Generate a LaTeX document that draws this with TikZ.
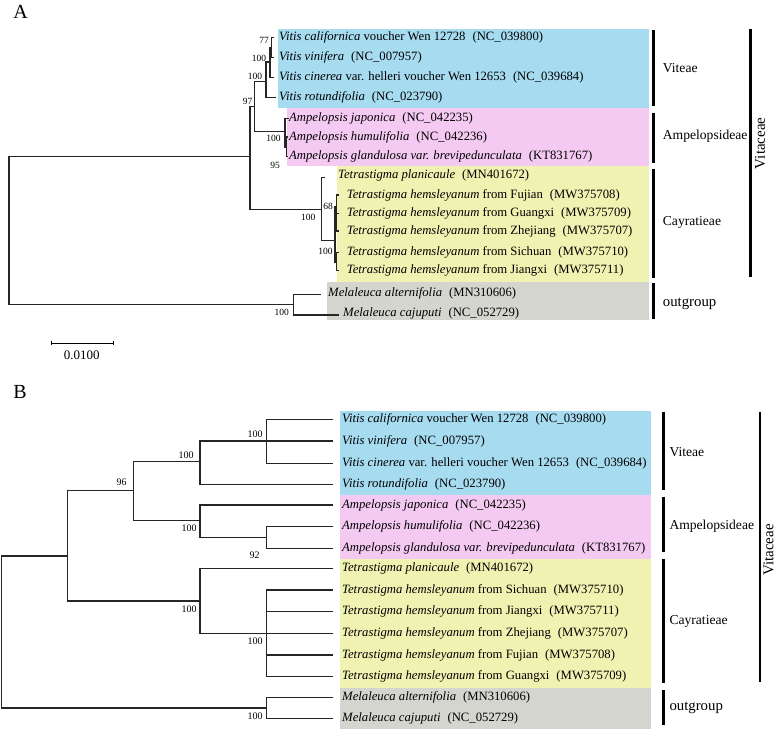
\documentclass[tikz,border=0pt]{standalone}
\usepackage{fontspec}
\setmainfont{Liberation Serif}
\usetikzlibrary{positioning, arrows.meta}

\definecolor{viteaebg}{RGB}{166,219,240}
\definecolor{ampelbg}{RGB}{244,202,242}
\definecolor{cayrabg}{RGB}{240,242,178}
\definecolor{outbg}{RGB}{213,213,207}

\newcommand{\accno}[1]{\hspace{0.55em}(#1)}

\begin{document}
\begin{tikzpicture}[x=1pt, y=-1pt]
    \tikzset{
      branch/.style={line width=1.1pt, black!85},
      bracket/.style={line width=2.5pt},
      taxon/.style={anchor=west, inner sep=0pt, font=\fontsize{12.7}{14}\selectfont},
      bootA/.style={inner sep=0pt, font=\fontsize{9.5}{10}\selectfont},
      bootB/.style={inner sep=0pt, font=\fontsize{10}{11}\selectfont},
      clade/.style={anchor=west, inner sep=0pt, font=\fontsize{13.6}{15}\selectfont},
      panel/.style={inner sep=0pt, font=\fontsize{20}{22}\selectfont}
    }
    \useasboundingbox (0,0) rectangle (777,729);

    % ---------- A: maximum likelihood, with branch lengths ----------
    \node[panel] (panelA) at (20.5,11.7) {A};

    % coloured backgrounds
    \fill[viteaebg] (277.7,29.3) rectangle (649,108.3);
    \fill[ampelbg] (287,108.3) rectangle (649,165.7);
    \fill[cayrabg] (336.7,165.7) rectangle (649,281.7);
    \fill[outbg] (326.7,281.7) rectangle (649,320);

    % inner nodes
    \coordinate (aRoot) at (9,230);
    \coordinate (aIng) at (250,156.7);
    \coordinate (aVA) at (254.3,106.4);
    \coordinate (aVit) at (266,81.7);
    \coordinate (aVit100) at (270,62);
    \coordinate (aVit77) at (271.5,47.6);
    \coordinate (aAmp) at (285,131.7);
    \coordinate (aAmp95) at (286.5,147);
    \coordinate (aCay) at (321.7,209.2);
    \coordinate (aHem) at (335,240.7);
    \coordinate (aHem68) at (336.5,207);
    \coordinate (aHemS) at (336.5,262);
    \coordinate (aOut) at (293.3,304.7);

    % tips
    \coordinate (aCal) at (274,37.7);
    \coordinate (aVin) at (274,57.5);
    \coordinate (aCin) at (273.5,77.3);
    \coordinate (aRot) at (276,97.5);
    \coordinate (aJap) at (288.5,118.7);
    \coordinate (aHum) at (288,137);
    \coordinate (aGla) at (288,156.7);
    \coordinate (aPla) at (325,177.5);
    \coordinate (aFuj) at (338.5,195);
    \coordinate (aGua) at (338.5,213.3);
    \coordinate (aZhe) at (338.5,231);
    \coordinate (aSic) at (338.5,252.3);
    \coordinate (aJia) at (338.5,270.7);
    \coordinate (aAlt) at (320.7,294.3);
    \coordinate (aCaj) at (339.3,315);

    % branches: first child -| node |- last child
    \draw[branch] (aIng) -| (aRoot) |- (aOut);
    \draw[branch] (aVA) -| (aIng) |- (aCay);
    \draw[branch] (aVit) -| (aVA) |- (aAmp);
    \draw[branch] (aVit100) -| (aVit) |- (aRot);
    \draw[branch] (aVit77) -| (aVit100) |- (aCin);
    \draw[branch] (aCal) -| (aVit77) |- (aVin);
    \draw[branch] (aJap) -| (aAmp) |- (aAmp95);
    \draw[branch] (aHum) -| (aAmp95) |- (aGla);
    \draw[branch] (aPla) -| (aCay) |- (aHem);
    \draw[branch] (aHem68) -| (aHem) |- (aHemS);
    \draw[branch] (aFuj) -| (aHem68) |- (aZhe);
    \draw[branch] (aHem68 |- aGua) -- (aGua);
    \draw[branch] (aSic) -| (aHemS) |- (aJia);
    \draw[branch] (aAlt) -| (aOut) |- (aCaj);

    % bootstrap values
    \node[bootA] (aB77) at (264,40) {77};
    \node[bootA] (aBVit100) at (259,58.3) {100};
    \node[bootA] (aBVit) at (255,76.7) {100};
    \node[bootA] (aB97) at (247.5,101.7) {97};
    \node[bootA] (aBAmp) at (273.5,138.3) {100};
    \node[bootA] (aB95) at (275,165.7) {95};
    \node[bootA] (aB68) at (328,206) {68};
    \node[bootA] (aBCay) at (308.3,217.3) {100};
    \node[bootA] (aBHem) at (325.5,251) {100};
    \node[bootA] (aBOut) at (281.7,312.7) {100};

    % taxa
    \node[taxon] (aCalT) at (279,37.7) {\textit{Vitis californica} voucher Wen 12728\accno{NC\_039800}};
    \node[taxon] (aVinT) at (279,57.5) {\textit{Vitis vinifera}\accno{NC\_007957}};
    \node[taxon] (aCinT) at (279,77.3) {\textit{Vitis cinerea} var. helleri voucher Wen 12653\accno{NC\_039684}};
    \node[taxon] (aRotT) at (279,97.5) {\textit{Vitis rotundifolia}\accno{NC\_023790}};
    \node[taxon] (aJapT) at (289,118.7) {\textit{Ampelopsis japonica}\accno{NC\_042235}};
    \node[taxon] (aHumT) at (289,137) {\textit{Ampelopsis humulifolia}\accno{NC\_042236}};
    \node[taxon] (aGlaT) at (289,156.7) {\textit{Ampelopsis glandulosa var. brevipedunculata}\accno{KT831767}};
    \node[taxon] (aPlaT) at (338,175.5) {\textit{Tetrastigma planicaule}\accno{MN401672}};
    \node[taxon] (aFujT) at (346.7,195) {\textit{Tetrastigma hemsleyanum} from Fujian\accno{MW375708}};
    \node[taxon] (aGuaT) at (346.7,213.3) {\textit{Tetrastigma hemsleyanum} from Guangxi\accno{MW375709}};
    \node[taxon] (aZheT) at (346.7,231) {\textit{Tetrastigma hemsleyanum} from Zhejiang\accno{MW375707}};
    \node[taxon] (aSicT) at (346.7,252.3) {\textit{Tetrastigma hemsleyanum} from Sichuan\accno{MW375710}};
    \node[taxon] (aJiaT) at (346.7,270.7) {\textit{Tetrastigma hemsleyanum} from Jiangxi\accno{MW375711}};
    \node[taxon] (aAltT) at (328,293.3) {\textit{Melaleuca alternifolia}\accno{MN310606}};
    \node[taxon] (aCajT) at (343,313.3) {\textit{Melaleuca cajuputi}\accno{NC\_052729}};

    % clade brackets
    \coordinate (aViteaeTop) at (653.3,30);    \coordinate (aViteaeBot) at (653.3,106);
    \coordinate (aAmpelTop) at (653.3,112.7);  \coordinate (aAmpelBot) at (653.3,162.7);
    \coordinate (aCayraTop) at (653.3,169.3);  \coordinate (aCayraBot) at (653.3,278.3);
    \coordinate (aOutTop) at (653.3,283.3);    \coordinate (aOutBot) at (653.3,319.3);
    \coordinate (aFamTop) at (750.7,29.3);     \coordinate (aFamBot) at (750.7,276.7);
    \draw[bracket] (aViteaeTop) -- (aViteaeBot);
    \draw[bracket] (aAmpelTop) -- (aAmpelBot);
    \draw[bracket] (aCayraTop) -- (aCayraBot);
    \draw[bracket] (aOutTop) -- (aOutBot);
    \draw[bracket] (aFamTop) -- (aFamBot);
    \node[clade] (aViteae) at (662.7,68.3) {Viteae};
    \node[clade] (aAmpel) at (662.7,136.7) {Ampelopsideae};
    \node[clade] (aCayra) at (662.7,222.7) {Cayratieae};
    \node[clade, font=\fontsize{14.8}{16}\selectfont] (aOutL) at (662.7,303.5) {outgroup};
    \node[clade, anchor=center, rotate=90, font=\fontsize{15}{16}\selectfont] (aFam) at (760,143.3) {Vitaceae};

    % scale bar
    \coordinate (barL) at (50.7,343.3);
    \coordinate (barR) at (114.3,343.3);
    \draw[line width=0.9pt, {Bar[width=4pt]}-{Bar[width=4pt]}] (barL) -- (barR);
    \node[inner sep=0pt, font=\fontsize{13}{14}\selectfont] (barT) at (81.7,355.7) {0.0100};

    % ---------- B: cladogram ----------
    \node[panel] (panelB) at (20,392) {B};

    \fill[viteaebg] (340,410.5) rectangle (651,494.5);
    \fill[ampelbg] (340,494.5) rectangle (651,558.5);
    \fill[cayrabg] (340,558.5) rectangle (651,687.5);
    \fill[outbg] (340,687.5) rectangle (651,729);

    % inner nodes
    \coordinate (bRoot) at (1.7,630);
    \coordinate (bIng) at (67.7,556);
    \coordinate (bVA) at (133.3,490.5);
    \coordinate (bVit) at (200,461.7);
    \coordinate (bVit100) at (266.7,441);
    \coordinate (bAmp) at (200,520.7);
    \coordinate (bAmp92) at (266.7,537.5);
    \coordinate (bCay) at (200,601);
    \coordinate (bHem) at (266.7,633.3);
    \coordinate (bOut) at (266.7,708);

    % tips
    \coordinate (bCal) at (333.3,419.3);
    \coordinate (bVin) at (333.3,441);
    \coordinate (bCin) at (333.3,463.3);
    \coordinate (bRot) at (333.3,484.3);
    \coordinate (bJap) at (333.3,505);
    \coordinate (bHum) at (333.3,526.7);
    \coordinate (bGla) at (333.3,548.3);
    \coordinate (bPla) at (333.3,568.3);
    \coordinate (bSic) at (333.3,590);
    \coordinate (bJia) at (333.3,611.7);
    \coordinate (bZhe) at (333.3,633.3);
    \coordinate (bFuj) at (333.3,655);
    \coordinate (bGua) at (333.3,676.7);
    \coordinate (bAlt) at (333.3,697.3);
    \coordinate (bCaj) at (333.3,718.3);

    \draw[branch] (bIng) -| (bRoot) |- (bOut);
    \draw[branch] (bVA) -| (bIng) |- (bCay);
    \draw[branch] (bVit) -| (bVA) |- (bAmp);
    \draw[branch] (bVit100) -| (bVit) |- (bRot);
    \draw[branch] (bCal) -| (bVit100) |- (bCin);
    \draw[branch] (bVit100) -- (bVin);
    \draw[branch] (bJap) -| (bAmp) |- (bAmp92);
    \draw[branch] (bHum) -| (bAmp92) |- (bGla);
    \draw[branch] (bPla) -| (bCay) |- (bHem);
    \draw[branch] (bSic) -| (bHem) |- (bGua);
    \draw[branch] (bHem |- bJia) -- (bJia) (bHem) -- (bZhe) (bHem |- bFuj) -- (bFuj);
    \draw[branch] (bAlt) -| (bOut) |- (bCaj);

    % bootstrap values
    \node[bootB] (bB96) at (121.7,482.3) {96};
    \node[bootB] (bBVit) at (186,455) {100};
    \node[bootB] (bBVit100) at (255,434.3) {100};
    \node[bootB] (bBAmp) at (189,528.3) {100};
    \node[bootB] (bB92) at (254.7,555) {92};
    \node[bootB] (bBCay) at (189,609) {100};
    \node[bootB] (bBHem) at (255,641.7) {100};
    \node[bootB] (bBOut) at (255,716) {100};

    % taxa
    \node[taxon] (bCalT) at (342,419.3) {\textit{Vitis californica} voucher Wen 12728\accno{NC\_039800}};
    \node[taxon] (bVinT) at (342,441) {\textit{Vitis vinifera}\accno{NC\_007957}};
    \node[taxon] (bCinT) at (342,463.3) {\textit{Vitis cinerea} var. helleri voucher Wen 12653\accno{NC\_039684}};
    \node[taxon] (bRotT) at (342,484.3) {\textit{Vitis rotundifolia}\accno{NC\_023790}};
    \node[taxon] (bJapT) at (342,505) {\textit{Ampelopsis japonica}\accno{NC\_042235}};
    \node[taxon] (bHumT) at (342,526.7) {\textit{Ampelopsis humulifolia}\accno{NC\_042236}};
    \node[taxon] (bGlaT) at (342,548.3) {\textit{Ampelopsis glandulosa var. brevipedunculata}\accno{KT831767}};
    \node[taxon] (bPlaT) at (342,568.3) {\textit{Tetrastigma planicaule}\accno{MN401672}};
    \node[taxon] (bSicT) at (342,590) {\textit{Tetrastigma hemsleyanum} from Sichuan\accno{MW375710}};
    \node[taxon] (bJiaT) at (342,611.7) {\textit{Tetrastigma hemsleyanum} from Jiangxi\accno{MW375711}};
    \node[taxon] (bZheT) at (342,633.3) {\textit{Tetrastigma hemsleyanum} from Zhejiang\accno{MW375707}};
    \node[taxon] (bFujT) at (342,655) {\textit{Tetrastigma hemsleyanum} from Fujian\accno{MW375708}};
    \node[taxon] (bGuaT) at (342,676.7) {\textit{Tetrastigma hemsleyanum} from Guangxi\accno{MW375709}};
    \node[taxon] (bAltT) at (342,697.3) {\textit{Melaleuca alternifolia}\accno{MN310606}};
    \node[taxon] (bCajT) at (342,718.3) {\textit{Melaleuca cajuputi}\accno{NC\_052729}};

    % clade brackets
    \coordinate (bViteaeTop) at (663.3,412);    \coordinate (bViteaeBot) at (663.3,490);
    \coordinate (bAmpelTop) at (663.3,496.7);   \coordinate (bAmpelBot) at (663.3,551.7);
    \coordinate (bCayraTop) at (663.3,559.3);   \coordinate (bCayraBot) at (663.3,683.3);
    \coordinate (bOutTop) at (663.3,690);       \coordinate (bOutBot) at (663.3,725);
    \coordinate (bFamTop) at (760,412);         \coordinate (bFamBot) at (760,681.7);
    \draw[bracket] (bViteaeTop) -- (bViteaeBot);
    \draw[bracket] (bAmpelTop) -- (bAmpelBot);
    \draw[bracket] (bCayraTop) -- (bCayraBot);
    \draw[bracket] (bOutTop) -- (bOutBot);
    \draw[bracket] (bFamTop) -- (bFamBot);
    \node[clade] (bViteae) at (669.3,452) {Viteae};
    \node[clade] (bAmpel) at (669.3,526.7) {Ampelopsideae};
    \node[clade] (bCayra) at (669.3,621.7) {Cayratieae};
    \node[clade, font=\fontsize{14.8}{16}\selectfont] (bOutL) at (669.3,707.5) {outgroup};
    \node[clade, anchor=center, rotate=90, font=\fontsize{15}{16}\selectfont] (bFam) at (768.5,550) {Vitaceae};
  \end{tikzpicture}
\end{document}
